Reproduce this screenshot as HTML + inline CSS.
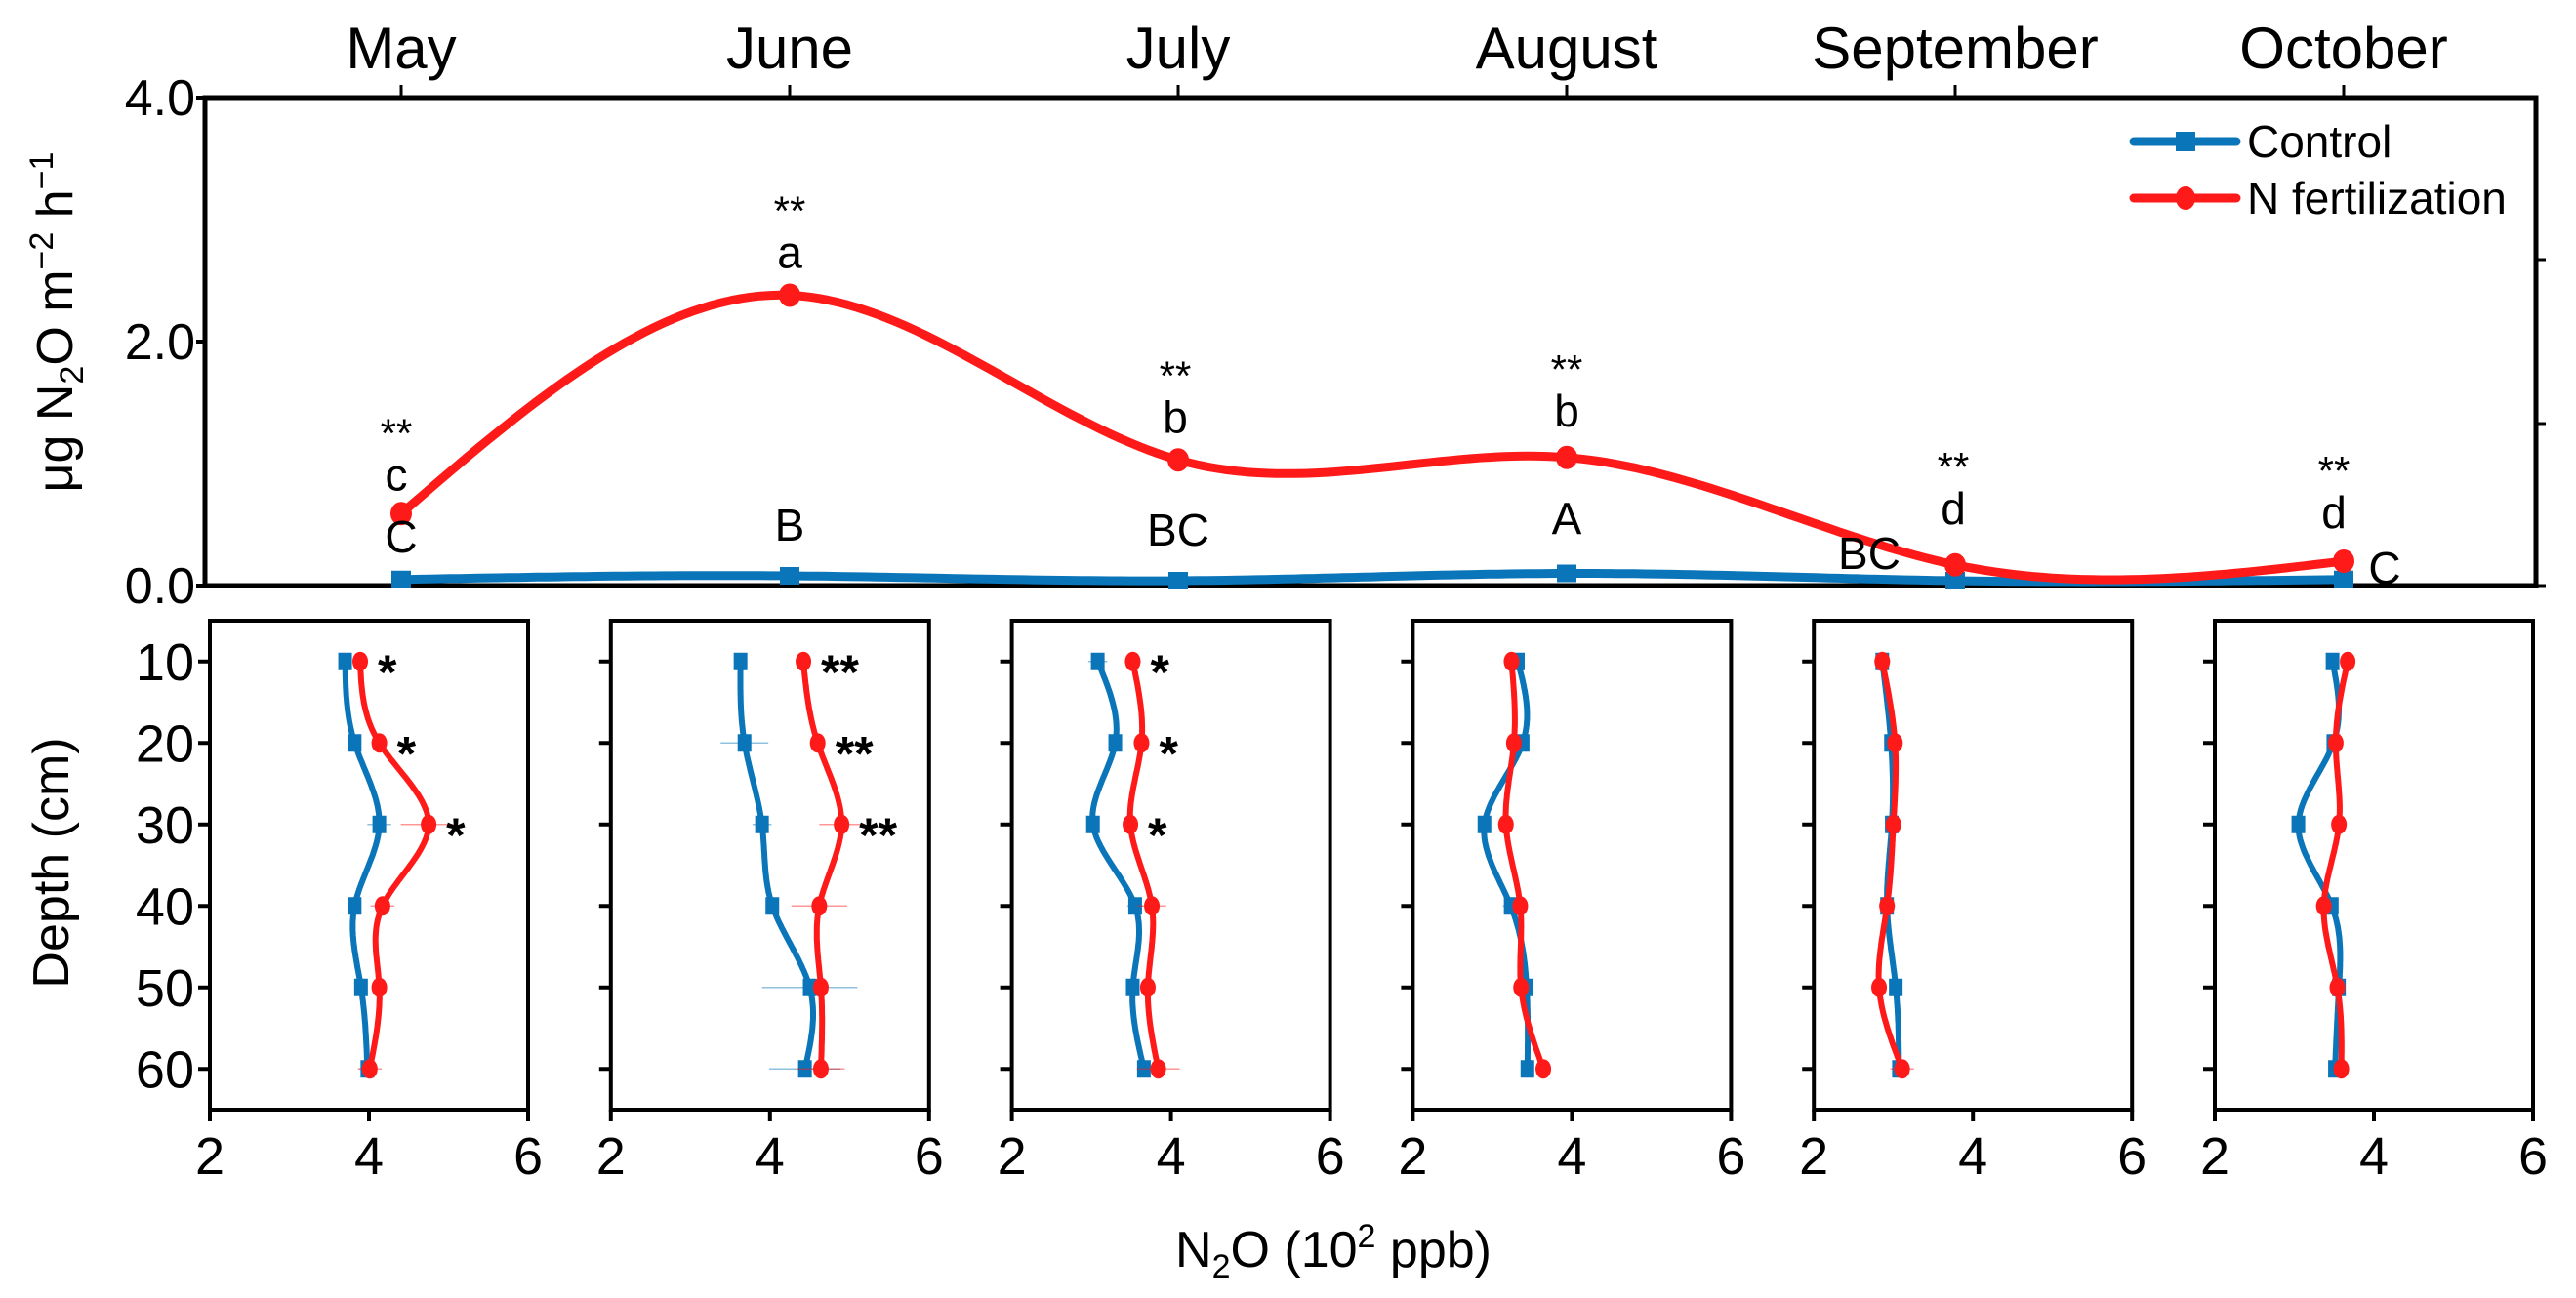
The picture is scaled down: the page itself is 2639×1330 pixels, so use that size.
<!DOCTYPE html>
<html><head><meta charset="utf-8">
<style>
html,body{margin:0;padding:0;background:#fff;}
svg{display:block;font-family:"Liberation Sans",Arial,sans-serif;}
</style></head>
<body>
<svg id="chart" width="2639" height="1330" viewBox="0 0 2639 1330" xmlns="http://www.w3.org/2000/svg"></svg>
<script>
// ---- top chart data ----
const months = ["May","June","July","August","September","October"];
const fluxControl = [0.05, 0.08, 0.04, 0.10, 0.04, 0.05];
const fluxNfert = [0.59, 2.38, 1.03, 1.05, 0.17, 0.20];
const yTicks = [0, 2, 4];
const yTickLabels = ["0.0","2.0","4.0"];
const ctrlLetters = ["C","B","BC","A","BC","C"];
const nLetters = ["c","a","b","b","d","d"];
const sigTop = ["**","**","**","**","**","**"];
// ---- depth profiles ----
const depths = [10,20,30,40,50,60];
const depthTickLabels = ["10","20","30","40","50","60"];
const xTicks = [2,4,6];
const profControl = [
 [3.70,3.82,4.13,3.82,3.90,3.98],
 [3.63,3.68,3.90,4.03,4.50,4.44],
 [3.08,3.30,3.02,3.55,3.52,3.66],
 [3.32,3.38,2.90,3.23,3.43,3.44],
 [2.86,2.97,2.98,2.92,3.03,3.07],
 [3.48,3.49,3.05,3.47,3.56,3.51]
];
const profNfert = [
 [3.89,4.13,4.75,4.17,4.13,4.01],
 [4.42,4.60,4.90,4.62,4.64,4.64],
 [3.52,3.63,3.49,3.76,3.71,3.84],
 [3.24,3.27,3.17,3.35,3.36,3.64],
 [2.86,3.02,3.00,2.92,2.82,3.11],
 [3.67,3.52,3.56,3.37,3.54,3.59]
];
const errControl = [
 [0.05,0.03,0.15,0.05,0.04,0.1],
 [0.04,0.3,0.12,0.05,0.6,0.45],
 [0.12,0.04,0.04,0.1,0.04,0.06],
 [0.03,0.03,0.05,0.1,0.04,0.03],
 [0.1,0.04,0.04,0.08,0.03,0.06],
 [0.03,0.04,0.03,0.04,0.03,0.03]
];
const errNfert = [
 [0.03,0.03,0.35,0.15,0.03,0.15],
 [0.03,0.03,0.28,0.35,0.05,0.3],
 [0.1,0.03,0.03,0.18,0.03,0.27],
 [0.03,0.03,0.03,0.03,0.03,0.03],
 [0.03,0.03,0.03,0.1,0.03,0.15],
 [0.03,0.03,0.03,0.03,0.03,0.03]
];
const sigDepth = [
 ["*","*","*","","",""],
 ["**","**","**","","",""],
 ["*","*","*","","",""],
 ["","","","","",""],
 ["","","","","",""],
 ["","","","","",""]
];

const BLUE="#0a75b8", RED="#ff1a1a";
const svg=document.getElementById('chart');
const NS="http://www.w3.org/2000/svg";
function mk(tag,attrs,parent){const e=document.createElementNS(NS,tag);for(const k in attrs)e.setAttribute(k,attrs[k]);(parent||svg).appendChild(e);return e;}

function spline(xs,ys,n){
 const m=xs.length,h=[],al=[],l=[1],mu=[0],z=[0],c=new Array(m).fill(0),b=[],d=[];
 for(let i=0;i<m-1;i++)h.push(xs[i+1]-xs[i]);
 for(let i=1;i<m-1;i++)al[i]=3/h[i]*(ys[i+1]-ys[i])-3/h[i-1]*(ys[i]-ys[i-1]);
 for(let i=1;i<m-1;i++){l[i]=2*(xs[i+1]-xs[i-1])-h[i-1]*mu[i-1];mu[i]=h[i]/l[i];z[i]=(al[i]-h[i-1]*z[i-1])/l[i];}
 l[m-1]=1;z[m-1]=0;
 for(let j=m-2;j>=0;j--){c[j]=z[j]-mu[j]*c[j+1];b[j]=(ys[j+1]-ys[j])/h[j]-h[j]*(c[j+1]+2*c[j])/3;d[j]=(c[j+1]-c[j])/(3*h[j]);}
 const out=[];
 for(let j=0;j<m-1;j++){for(let k=0;k<n;k++){const t=h[j]*k/n;out.push([xs[j]+t,ys[j]+b[j]*t+c[j]*t*t+d[j]*t*t*t]);}}
 out.push([xs[m-1],ys[m-1]]);
 return out;
}

// ===== TOP CHART =====
const TL=210,TR=2598,TT=100,TB=600;
const mx=i=>411+i*398;
const fy=v=>TB-(v/4)*(TB-TT);

const topFrame=mk('path',{d:`M${TL},${TB}L${TL},${TT}L${TR},${TT}L${TR},${TB}L${TL},${TB}`,fill:'none',stroke:'#000','stroke-width':5});



yTicks.forEach((v,i)=>{
 const t=mk('line',{x1:TL-9,x2:TL,y1:fy(v),y2:fy(v),stroke:'#000','stroke-width':4});
 
 
 const tx=mk('text',{x:TL-10,y:fy(v)+18,'text-anchor':'end','font-size':52});
 tx.textContent=yTickLabels[i];
 
 
});
[266,434,600].forEach(y=>{
 const t=mk('line',{x1:TR,x2:TR+10,y1:y,y2:y,stroke:'#000','stroke-width':3});
 
 
});
months.forEach((m,i)=>{
 const t=mk('line',{x1:mx(i),x2:mx(i),y1:TT-13,y2:TT,stroke:'#000','stroke-width':3});
 
 
 const tx=mk('text',{x:mx(i),y:70,'text-anchor':'middle','font-size':60});
 tx.textContent=m;
 
 
});

const yt=mk('text',{transform:'translate(74,330) rotate(-90)','text-anchor':'middle','font-size':52});
yt.innerHTML='μg N<tspan font-size="34" dy="11">2</tspan><tspan dy="-11">O m</tspan><tspan font-size="34" dy="-20">−2</tspan><tspan dy="20"> h</tspan><tspan font-size="34" dy="-20">−1</tspan>';



function drawTopSeries(vals,color,name,square){
 const pts=spline(vals.map((v,i)=>mx(i)),vals.map(fy),40);
 const p=mk('path',{d:'M'+pts.map(q=>q[0].toFixed(1)+','+q[1].toFixed(1)).join('L'),fill:'none',stroke:color,'stroke-width':9,'stroke-linejoin':'round'});
 
 
 vals.forEach((v,i)=>{
  let mkr;
  if(square) mkr=mk('rect',{x:mx(i)-10,y:fy(v)-9,width:20,height:18,fill:color});
  else mkr=mk('ellipse',{cx:mx(i),cy:fy(v),rx:11,ry:12,fill:color});
  
  
 });
}
drawTopSeries(fluxControl,BLUE,'control',true);
drawTopSeries(fluxNfert,RED,'n-fertilization',false);

const ctrlOffsets=[[0,-28],[0,-36],[0,-36],[0,-40],[-88,-12],[42,4]];
const nLetterOffsets=[[-5,-24],[0,-28],[-3,-28],[0,-32],[-2,-42],[-10,-34]];
months.forEach((m,i)=>{
 const cx=mx(i)+ctrlOffsets[i][0], cy=fy(fluxControl[i])+ctrlOffsets[i][1];
 const a=mk('text',{x:cx,y:cy,'text-anchor':'middle','font-size':46});
 a.textContent=ctrlLetters[i];
 
 
 const nx=mx(i)+nLetterOffsets[i][0], ny=fy(fluxNfert[i])+nLetterOffsets[i][1];
 const b=mk('text',{x:nx,y:ny,'text-anchor':'middle','font-size':46});
 b.textContent=nLetters[i];
 
 
 const s=mk('text',{x:nx,y:ny-44,'text-anchor':'middle','font-size':42});
 s.textContent=sigTop[i];
 
 
});

const lg=mk('g',{});


[[145,BLUE,'Control',true],[203,RED,'N fertilization',false]].forEach(e=>{
 const g=mk('g',{},lg);
 
 
 mk('line',{x1:2186,x2:2291,y1:e[0],y2:e[0],stroke:e[1],'stroke-width':9,'stroke-linecap':'round'},g);
 if(e[3]) mk('rect',{x:2229,y:e[0]-10,width:20,height:20,fill:e[1]},g);
 else mk('ellipse',{cx:2239,cy:e[0],rx:10,ry:12,fill:e[1]},g);
 const t=mk('text',{x:2302,y:e[0]+16,'font-size':46},g);
 t.textContent=e[2];
});

// ===== DEPTH PANELS =====
const PT=636,PB=1137,PW=326;
const dy=d=>PT+(d-5)/60*(PB-PT);
for(let p=0;p<6;p++){
 const L=215+p*410.8, R=L+PW;
 const px=v=>L+(v-2)/4*PW;
 const g=mk('g',{});
 
 
 const fr=mk('rect',{x:L,y:PT,width:PW,height:PB-PT,fill:'none',stroke:'#000','stroke-width':4},g);
 
 
 depths.forEach((d,i)=>{
  const t=mk('line',{x1:L-12,x2:L,y1:dy(d),y2:dy(d),stroke:'#000','stroke-width':4},g);
  
  
  if(p===0){
   const tx=mk('text',{x:L-16,y:dy(d)+19,'text-anchor':'end','font-size':54},g);
   tx.textContent=depthTickLabels[i];
   
   
  }
 });
 xTicks.forEach(v=>{
  const t=mk('line',{x1:px(v),x2:px(v),y1:PB,y2:PB+12,stroke:'#000','stroke-width':4},g);
  
  
  const tx=mk('text',{x:px(v),y:PB+66,'text-anchor':'middle','font-size':54},g);
  tx.textContent=String(v);
  
  
 });
 [[profControl[p],errControl[p],BLUE,'control',true],[profNfert[p],errNfert[p],RED,'n-fertilization',false]].forEach(s=>{
  const vals=s[0],err=s[1],col=s[2];
  vals.forEach((v,i)=>{
   const e=mk('line',{x1:px(v-err[i]),x2:px(v+err[i]),y1:dy(depths[i]),y2:dy(depths[i]),stroke:col,'stroke-width':1.5,opacity:0.45},g);
   
   
  });
  const pts=spline(depths.map(dy),vals.map(px),30);
  const pa=mk('path',{d:'M'+pts.map(q=>q[1].toFixed(1)+','+q[0].toFixed(1)).join('L'),fill:'none',stroke:col,'stroke-width':6,'stroke-linejoin':'round'},g);
  
  
  vals.forEach((v,i)=>{
   let mkr;
   if(s[4]) mkr=mk('rect',{x:px(v)-7,y:dy(depths[i])-9,width:14,height:18,fill:col},g);
   else mkr=mk('ellipse',{cx:px(v),cy:dy(depths[i]),rx:8,ry:10,fill:col},g);
   
   
  });
 });
 sigDepth[p].forEach((s,i)=>{
  if(!s) return;
  const xr=Math.max(profControl[p][i],profNfert[p][i]);
  const t=mk('text',{x:px(xr)+18,y:dy(depths[i])+28,'font-size':50,'font-weight':'bold'},g);
  t.textContent=s;
  
  
 });
}

const dl=mk('text',{transform:'translate(70,884) rotate(-90)','text-anchor':'middle','font-size':52});
dl.textContent='Depth (cm)';



const xl=mk('text',{x:1366,y:1298,'text-anchor':'middle','font-size':52});
xl.innerHTML='N<tspan font-size="34" dy="11">2</tspan><tspan dy="-11">O (10</tspan><tspan font-size="34" dy="-20">2</tspan><tspan dy="20"> ppb)</tspan>';


</script>
</body></html>
